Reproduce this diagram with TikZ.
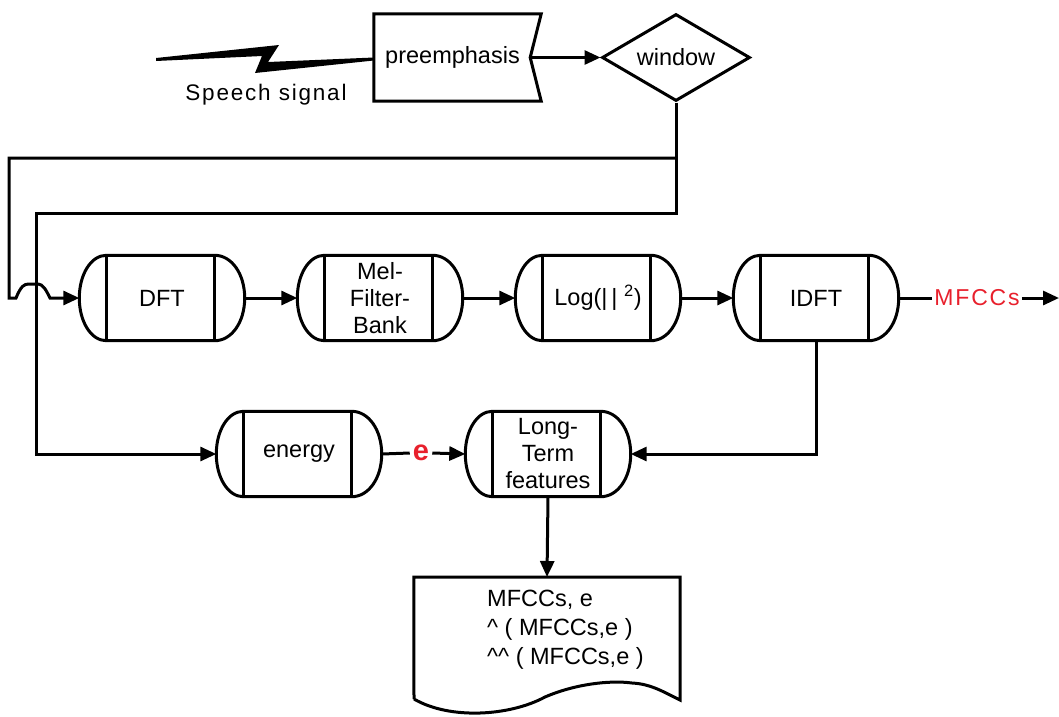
\documentclass[tikz,border=0pt]{standalone}
\usepackage{fontspec}
\setmainfont{Liberation Sans}
\newfontfamily\spacedfont[LetterSpace=8]{Liberation Sans}
\usetikzlibrary{arrows.meta,shapes.geometric}
\definecolor{labelred}{RGB}{232,32,44}
\tikzset{
  ln/.style={line width=3pt, line join=miter},
  arr/.style={ln, -{Triangle[length=16pt,width=14pt]}},
  capbox/.style={draw=none, minimum width=165pt, minimum height=85pt, inner sep=0pt, align=center},
  lbl/.style={font=\fontsize{23.5}{27}\selectfont},
}
\begin{document}
\begin{tikzpicture}[x=1pt, y=-1pt, lbl]
\useasboundingbox (0,0) rectangle (1059,716);

% input stage
\node[draw=none, minimum width=167pt, minimum height=87pt, inner sep=0pt] (pre) at (457.5,57.5) {preemphasis\hspace*{10pt}};
\draw[ln] (pre.north west) -- (pre.north east) -- ([xshift=-11pt]pre.east) -- (pre.south east) -- (pre.south west) -- cycle;
\node[draw, ln, diamond, aspect=1.7, minimum width=148pt, minimum height=87pt, inner sep=0pt] (win) at (676,57.5) {window};
\node[font=\spacedfont\fontsize{22.5}{27}\selectfont] (sig) at (266,95) {Speech signal};

% lightning bolt
\fill (156,58) -- (279,45) -- (268,62) -- (pre.west) -- ([yshift=-3pt]pre.west) -- (255,73) -- (262,56) -- (156,61) -- cycle;

% processing chain
\node[capbox] (dft)  at (162,298) {DFT};
\node[capbox] (mel)  at (380,298) {Mel-\\Filter-\\Bank};
\node[capbox] (log)  at (598,298) {Log(|\,|\ \textsuperscript{2})};
\node[capbox] (idft) at (816,298) {IDFT};
\node[capbox] (energy) at (299,454) {energy};
\node[capbox] (ltf)  at (548,454) {Long-\\Term\\features};

\foreach \n in {dft,mel,log,idft,energy,ltf}{
  \draw[ln] ([xshift=27pt]\n.north west) -- ([xshift=-30pt]\n.north east)
    .. controls ([xshift=-13pt]\n.north east) and ([yshift=24pt]\n.east) .. (\n.east)
    .. controls ([yshift=-24pt]\n.east) and ([xshift=-13pt]\n.south east) .. ([xshift=-30pt]\n.south east)
    -- ([xshift=27pt]\n.south west)
    .. controls ([xshift=12pt]\n.south west) and ([yshift=-24pt]\n.west) .. (\n.west)
    .. controls ([yshift=24pt]\n.west) and ([xshift=12pt]\n.north west) .. cycle;
  \draw[ln] ([xshift=27pt]\n.north west) -- ([xshift=27pt]\n.south west);
  \draw[ln] ([xshift=-30pt]\n.north east) -- ([xshift=-30pt]\n.south east);
}

% outputs
\node[text=labelred, font=\spacedfont\fontsize{23}{27}\selectfont, inner sep=2pt] (mfcc) at (977,298) {MFCCs};
\coordinate (out) at (1059,298);
\node[text=labelred, font=\bfseries\fontsize{29}{29}\selectfont, inner sep=3pt] (e) at (421,453) {e};

% document
\node[draw=none, minimum width=266pt, minimum height=122pt, inner sep=0pt, anchor=north] (doc) at (547,577) {};
\draw[ln] (414,699) -- (doc.north west) -- (doc.north east) -- (680,700)
  .. controls (660,690) and (650,684) .. (632,683)
  .. controls (610,680) and (575,684) .. (545,697)
  .. controls (510,716) and (450,720) .. (414,699);
\node[anchor=north west, align=left, inner sep=0pt, font=\fontsize{23.5}{29}\selectfont] (doctext) at (487,590)
  {MFCCs, e\\\textasciicircum\ ( MFCCs,e )\\\textasciicircum\textasciicircum\ ( MFCCs,e )};

% connectors
\draw[arr] ([xshift=-11pt]pre.east) -- (win.west);
\coordinate (j1) at (676,158);
\draw[ln] (win.south) -- (j1);
\draw[arr] (j1) -| (9,298) -- (16,298)
  .. controls (21,286) and (24,284) .. (29,284) -- (38,284)
  .. controls (43,284) and (46,290) .. (50,298) -- (dft.west);
\draw[arr] (j1) |- (36,213) |- (energy.west);
\draw[arr] (dft.east) -- (mel.west);
\draw[arr] (mel.east) -- (log.west);
\draw[arr] (log.east) -- (idft.west);
\draw[ln] (idft.east) -- (mfcc.west);
\draw[arr] (mfcc.east) -- (out);
\draw[ln] (energy.east) -- (e.west);
\draw[arr] (e.east) -- (ltf.west);
\draw[arr] (idft.south) |- (ltf.east);
\draw[arr] (ltf.south) -- (doc.north);
\end{tikzpicture}
\end{document}
